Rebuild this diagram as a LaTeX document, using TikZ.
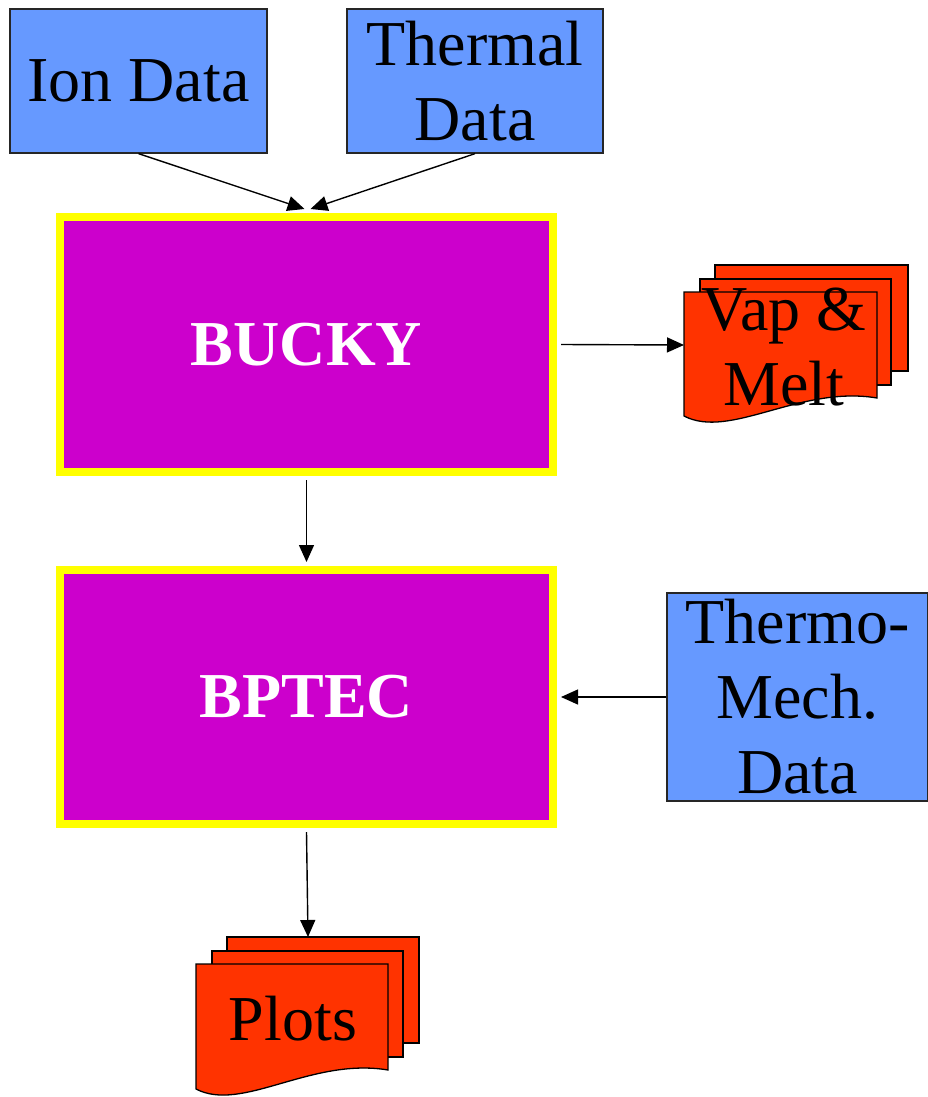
\documentclass[tikz,border=0pt]{standalone}
\usepackage{fontspec}
\setmainfont{Liberation Serif}
\usetikzlibrary{arrows.meta}
\definecolor{dblue}{HTML}{6699FF}
\definecolor{pmag}{HTML}{CC00CC}
\definecolor{pyel}{HTML}{FFFF00}
\definecolor{dred}{HTML}{FF3300}
\tikzset{
  bigfont/.style={font=\fontsize{64}{75}\selectfont},
  databox/.style={draw=black!85, line width=1.3pt, fill=dblue, align=center, inner sep=0pt, bigfont},
  procbox/.style={draw=pyel, line width=8pt, fill=pmag, text=white, inner sep=0pt, font=\fontsize{64}{75}\selectfont\bfseries},
  docpage/.style={draw=black, line width=1.3pt, fill=dred},
  doctext/.style={align=center, inner sep=0pt, bigfont},
  arr/.style={line width=1.4pt, -{Triangle[length=17pt,width=15pt]}}
}
\begin{document}
\begin{tikzpicture}[x=1pt,y=-1pt]
\useasboundingbox (0,0) rectangle (927,1097);

% data boxes
\node[databox, minimum width=257pt, minimum height=144pt] (ion) at (138.5,81) {Ion Data};
\node[databox, minimum width=256pt, minimum height=144pt] (thermal) at (475,81) {Thermal\\Data};
\node[databox, minimum width=261pt, minimum height=208pt] (thermo) at (797.5,697) {Thermo-\\Mech.\\ Data};

% process boxes
\node[procbox, minimum width=493pt, minimum height=255pt] (bucky) at (306.5,344.5) {BUCKY};
\node[procbox, minimum width=493pt, minimum height=254pt] (bptec) at (306.5,697) {BPTEC};

% Vap & Melt document stack
\draw[docpage] (715,265) rectangle (908,371);
\draw[docpage] (700,279) rectangle (891,385);
\draw[docpage] (684,292) -- (877,292) -- (877,398) .. controls (800,385) and (730,440) .. (684,416) -- cycle;
\node[doctext] (vap) at (784,347.5) {Vap \&\\Melt};
\coordinate (vapin) at (684,345);

% Plots document stack
\draw[docpage] (227,937) rectangle (419,1043);
\draw[docpage] (212,951) rectangle (403,1057);
\draw[docpage] (196,964) -- (388,964) -- (388,1070) .. controls (311,1057) and (242,1113) .. (196,1089) -- cycle;
\node[doctext] (plots) at (293,1019) {Plots};
\coordinate (plotsin) at (308,937);

% connectors
\draw[arr] (ion.south) -- ([xshift=-2pt,yshift=4pt]bucky.north);
\draw[arr] (thermal.south) -- ([xshift=4pt,yshift=4pt]bucky.north);
\draw[arr] ([yshift=-4pt]bucky.south) -- ([yshift=4pt]bptec.north);
\draw[arr] ([xshift=4pt]bucky.east) -- (vapin);
\draw[arr] (thermo.west) -- ([xshift=4pt]bptec.east);
\draw[arr] ([yshift=-4pt]bptec.south) -- (plotsin);
\end{tikzpicture}
\end{document}
